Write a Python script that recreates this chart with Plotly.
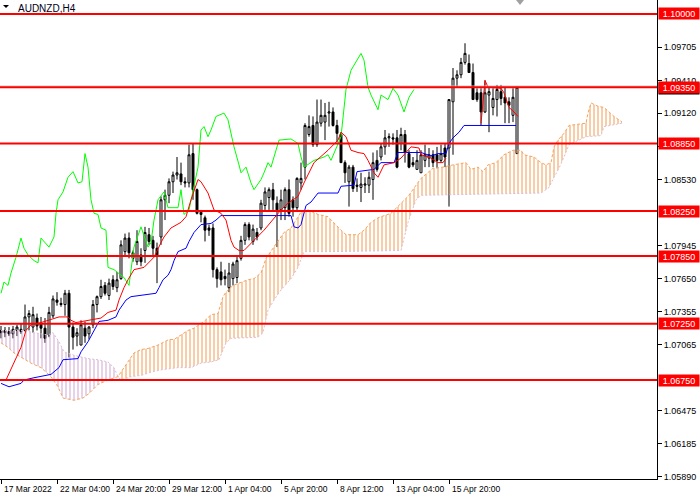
import plotly.graph_objects as go

# ---------------- data ----------------
symbol_title = "AUDNZD,H4"

bar_index = list(range(130))
opens = [1.0719, 1.0717, 1.0718, 1.0716, 1.0719, 1.0720, 1.0719, 1.0731, 1.0722, 1.0730,
         1.0725, 1.0721, 1.0715, 1.0732, 1.0746, 1.0743, 1.0742, 1.0752, 1.0722, 1.0714,
         1.0706, 1.0721, 1.0716, 1.0724, 1.0742, 1.0749, 1.0759, 1.0750, 1.0764, 1.0757,
         1.0765, 1.0789, 1.0801, 1.0783, 1.0780, 1.0786, 1.0790, 1.0804, 1.0799, 1.0792,
         1.0802, 1.0835, 1.0839, 1.0851, 1.0857, 1.0858, 1.0851, 1.0850, 1.0876, 1.0844,
         1.0824, 1.0819, 1.0810, 1.0810, 1.0773, 1.0771, 1.0767, 1.0757, 1.0765, 1.0766,
         1.0783, 1.0799, 1.0813, 1.0798, 1.0806, 1.0810, 1.0830, 1.0837, 1.0844, 1.0832,
         1.0826, 1.0828, 1.0844, 1.0835, 1.0828, 1.0850, 1.0864, 1.0893, 1.0901, 1.0884,
         1.0903, 1.0904, 1.0912, 1.0913, 1.0901, 1.0893, 1.0868, 1.0851, 1.0864, 1.0848,
         1.0846, 1.0848, 1.0848, 1.0853, 1.0870, 1.0873, 1.0882, 1.0890, 1.0890, 1.0890,
         1.0885, 1.0893, 1.0876, 1.0868, 1.0862, 1.0859, 1.0870, 1.0872, 1.0875, 1.0875,
         1.0870, 1.0881, 1.0881, 1.0922, 1.0943, 1.0946, 1.0957, 1.0956, 1.0948, 1.0930,
         1.0930, 1.0913, 1.0928, 1.0917, 1.0924, 1.0931, 1.0926, 1.0922, 1.0910, 1.0876]
highs = [1.0723, 1.0722, 1.0722, 1.0723, 1.0724, 1.0725, 1.0742, 1.0737, 1.0740, 1.0734,
         1.0731, 1.0730, 1.0740, 1.0750, 1.0753, 1.0748, 1.0755, 1.0755, 1.0726, 1.0721,
         1.0728, 1.0727, 1.0723, 1.0746, 1.0750, 1.0764, 1.0762, 1.0765, 1.0768, 1.0771,
         1.0799, 1.0805, 1.0806, 1.0790, 1.0808, 1.0792, 1.0811, 1.0810, 1.0803, 1.0797,
         1.0838, 1.0844, 1.0854, 1.0860, 1.0873, 1.0868, 1.0855, 1.0884, 1.0885, 1.0845,
         1.0826, 1.0821, 1.0813, 1.0814, 1.0775, 1.0780, 1.0773, 1.0779, 1.0780, 1.0786,
         1.0803, 1.0815, 1.0815, 1.0813, 1.0810, 1.0835, 1.0846, 1.0846, 1.0850, 1.0838,
         1.0844, 1.0846, 1.0853, 1.0838, 1.0855, 1.0868, 1.0903, 1.0910, 1.0909, 1.0924,
         1.0924, 1.0921, 1.0922, 1.0917, 1.0906, 1.0895, 1.0870, 1.0866, 1.0866, 1.0854,
         1.0859, 1.0855, 1.0860, 1.0877, 1.0879, 1.0885, 1.0897, 1.0894, 1.0894, 1.0897,
         1.0899, 1.0897, 1.0879, 1.0873, 1.0879, 1.0879, 1.0884, 1.0881, 1.0879, 1.0882,
         1.0884, 1.0885, 1.0924, 1.0952, 1.0950, 1.0961, 1.0974, 1.0964, 1.0956, 1.0934,
         1.0934, 1.0941, 1.0935, 1.0934, 1.0937, 1.0937, 1.0935, 1.0926, 1.0934, 1.0935]
lows = [1.0712, 1.0713, 1.0714, 1.0712, 1.0714, 1.0716, 1.0718, 1.0719, 1.0717, 1.0719,
        1.0712, 1.0708, 1.0713, 1.0730, 1.0741, 1.0740, 1.0732, 1.0695, 1.0702, 1.0705,
        1.0706, 1.0708, 1.0711, 1.0721, 1.0735, 1.0747, 1.0750, 1.0746, 1.0755, 1.0753,
        1.0764, 1.0786, 1.0783, 1.0780, 1.0777, 1.0776, 1.0779, 1.0795, 1.0784, 1.0761,
        1.0795, 1.0817, 1.0832, 1.0841, 1.0853, 1.0848, 1.0846, 1.0846, 1.0835, 1.0822,
        1.0815, 1.0798, 1.0803, 1.0766, 1.0757, 1.0759, 1.0759, 1.0753, 1.0759, 1.0761,
        1.0781, 1.0795, 1.0799, 1.0795, 1.0799, 1.0808, 1.0826, 1.0826, 1.0826, 1.0793,
        1.0817, 1.0817, 1.0820, 1.0820, 1.0826, 1.0844, 1.0853, 1.0891, 1.0882, 1.0882,
        1.0900, 1.0888, 1.0900, 1.0900, 1.0886, 1.0868, 1.0850, 1.0829, 1.0842, 1.0842,
        1.0833, 1.0841, 1.0841, 1.0835, 1.0860, 1.0870, 1.0875, 1.0882, 1.0884, 1.0863,
        1.0879, 1.0868, 1.0863, 1.0864, 1.0862, 1.0859, 1.0864, 1.0864, 1.0864, 1.0863,
        1.0868, 1.0864, 1.0829, 1.0875, 1.0935, 1.0943, 1.0955, 1.0948, 1.0924, 1.0922,
        1.0901, 1.0912, 1.0895, 1.0910, 1.0909, 1.0919, 1.0903, 1.0903, 1.0904, 1.0876]
closes = [1.0717, 1.0719, 1.0716, 1.0720, 1.0722, 1.0718, 1.0731, 1.0734, 1.0733, 1.0723,
          1.0721, 1.0712, 1.0735, 1.0747, 1.0744, 1.0742, 1.0752, 1.0722, 1.0713, 1.0717,
          1.0724, 1.0714, 1.0722, 1.0742, 1.0749, 1.0758, 1.0752, 1.0761, 1.0758, 1.0764,
          1.0795, 1.0801, 1.0788, 1.0788, 1.0798, 1.0780, 1.0806, 1.0798, 1.0792, 1.0786,
          1.0835, 1.0839, 1.0851, 1.0857, 1.0859, 1.0851, 1.0850, 1.0875, 1.0844, 1.0823,
          1.0822, 1.0808, 1.0808, 1.0773, 1.0765, 1.0764, 1.0765, 1.0770, 1.0778, 1.0781,
          1.0799, 1.0813, 1.0802, 1.0809, 1.0802, 1.0832, 1.0842, 1.0844, 1.0835, 1.0826,
          1.0835, 1.0844, 1.0823, 1.0828, 1.0854, 1.0854, 1.0901, 1.0900, 1.0884, 1.0904,
          1.0910, 1.0910, 1.0913, 1.0901, 1.0894, 1.0868, 1.0859, 1.0864, 1.0845, 1.0847,
          1.0849, 1.0849, 1.0855, 1.0868, 1.0862, 1.0882, 1.0890, 1.0891, 1.0889, 1.0864,
          1.0893, 1.0877, 1.0864, 1.0866, 1.0870, 1.0875, 1.0875, 1.0875, 1.0868, 1.0870,
          1.0876, 1.0873, 1.0924, 1.0943, 1.0946, 1.0957, 1.0965, 1.0948, 1.0924, 1.0924,
          1.0913, 1.0930, 1.0931, 1.0925, 1.0933, 1.0925, 1.0921, 1.0919, 1.0926, 1.0935]

# Ichimoku lines (bar position, price)
tenkan_x = [1.25, 3.25, 5, 6.25, 7.5, 10, 13.25, 14.5, 16.75, 17.5, 18.75, 25, 26.75, 28.75, 29.5,
            30.75, 31.75, 33.25, 35.75, 38.25, 40, 40.75, 42.5, 45, 46.25, 47.5, 49.25, 50, 51.75,
            53.25, 55, 56.25, 57.5, 58.25, 59.5, 60.75, 65.75, 70, 71.75, 74.25, 75.75, 78.25, 81.75,
            84.25, 85, 86.25, 87.5, 89.25, 90.75, 91.75, 93.25, 94.25, 95.75, 98.25, 100, 101.75,
            102.5, 104.5, 105, 107, 109.25, 110.5, 111.25, 115, 120, 121, 121.75, 125, 125.75, 127,
            128.25, 129.25]
tenkan_y = [1.0675, 1.0690, 1.0704, 1.0719, 1.0724, 1.0726, 1.0730, 1.0731, 1.0731, 1.0728, 1.0726,
            1.0730, 1.0735, 1.0737, 1.0746, 1.0757, 1.0764, 1.0773, 1.0775, 1.0784, 1.0797, 1.0802,
            1.0810, 1.0815, 1.0820, 1.0835, 1.0853, 1.0851, 1.0841, 1.0826, 1.0823, 1.0817, 1.0799,
            1.0793, 1.0790, 1.0790, 1.0808, 1.0826, 1.0832, 1.0838, 1.0850, 1.0868, 1.0879, 1.0888,
            1.0895, 1.0891, 1.0879, 1.0877, 1.0876, 1.0870, 1.0859, 1.0855, 1.0866, 1.0868, 1.0872,
            1.0879, 1.0882, 1.0881, 1.0875, 1.0873, 1.0868, 1.0868, 1.0872, None, 1.0903, 1.0941,
            1.0935, 1.0934, 1.0930, 1.0917, 1.0913, 1.0909]

kijun_x = [0, 2, 5, 5.75, 8.25, 12.5, 14.5, 15.5, 19.25, 20, 21.75, 23, 24.5, 26.75, 28.75, 29.5,
           31.25, 32.5, 38.75, 39.5, 40.5, 41.75, 42.5, 43.25, 44.25, 46.25, 47, 48.25, 50, 52.5,
           53.75, 55, 72.5, 73.25, 74.25, 75, 76.25, 77.5, 79.25, 84.25, 85, 88.25, 89, 93.25, 95,
           98.25, 99.25, 105, 107.5, 109.25, 111.25, 112, 113, 114.5, 115.75, 128.75]
kijun_y = [1.0672, 1.0669, 1.0672, 1.0675, 1.0677, 1.0680, 1.0686, 1.0693, 1.0694, 1.0700, 1.0709,
           1.0717, 1.0727, 1.0728, 1.0731, 1.0737, 1.0746, 1.0749, 1.0752, 1.0757, 1.0764, 1.0768,
           1.0773, 1.0781, 1.0789, 1.0792, 1.0798, 1.0806, 1.0813, 1.0814, 1.0817, 1.0821, 1.0821,
           1.0811, 1.0810, 1.0813, 1.0830, 1.0833, 1.0841, 1.0841, 1.0847, 1.0848, 1.0860, 1.0862,
           1.0868, 1.0868, 1.0877, 1.0877, 1.0874, 1.0876, 1.0876, 1.0885, 1.0890, 1.0895, 1.0901,
           1.0901]

chikou_x = [0, 0.75, 1.75, 2.5, 3.75, 5, 5.75, 6.75, 8.25, 9.25, 10, 12, 13.25, 13.75, 14.25, 15.5,
            16.75, 18, 19.25, 20.25, 21, 21.75, 22.5, 23.25, 24.25, 25, 26.25, 26.75, 28.25, 30.75,
            32, 33.25, 35, 36.75, 37.5, 38.25, 39.25, 40.75, 41.75, 44.25, 45, 45.75, 47, 49.25, 50,
            50.75, 51.75, 52.5, 53.75, 55.75, 56.75, 58.25, 59.5, 60, 61.25, 62.5, 63.25, 65, 65.75,
            66.75, 67.5, 68.25, 69.5, 72.5, 74.25, 75, 75.75, 78.25, 80.75, 81.75, 82.5, 85, 86.25,
            87.5, 90, 90.75, 91.75, 92.5, 94.25, 95, 96.75, 98, 99.25, 100.75, 102, 103.25]
chikou_y = [1.0752, 1.0762, 1.0759, 1.0770, 1.0784, 1.0801, 1.0792, 1.0786, 1.0781, 1.0779, 1.0801,
            1.0793, 1.0802, 1.0823, 1.0835, 1.0842, 1.0855, 1.0860, 1.0850, 1.0851, 1.0876, 1.0864,
            1.0835, 1.0823, 1.0822, 1.0810, 1.0808, 1.0775, 1.0773, 1.0766, 1.0759, 1.0793, 1.0811,
            1.0793, 1.0797, 1.0817, 1.0835, 1.0842, 1.0828, 1.0828, 1.0844, 1.0822, 1.0826, 1.0864,
            1.0897, 1.0900, 1.0891, 1.0897, 1.0909, 1.0912, 1.0906, 1.0882, 1.0866, 1.0859, 1.0864,
            1.0850, 1.0844, 1.0853, 1.0859, 1.0868, 1.0864, 1.0873, 1.0888, 1.0889, 1.0885, 1.0873,
            1.0864, 1.0870, 1.0873, 1.0875, 1.0870, 1.0891, 1.0933, 1.0950, 1.0965, 1.0959, 1.0935,
            1.0928, 1.0915, 1.0928, 1.0924, 1.0934, 1.0928, 1.0913, 1.0926, 1.0933]

senkou_a_x = [0, 1.75, 3.25, 5.75, 7.5, 10, 12.5, 14.25, 15.5, 18.25, 20.5, 22, 24.25, 26.75, 28.25,
              29.25, 30.75, 32.5, 33.25, 35, 36.75, 39.25, 40.75, 42, 43.25, 45, 46.75, 48.25, 49.5,
              50.75, 52.5, 54.25, 55.5, 56.25, 58, 59.5, 61.75, 63.25, 65, 66.25, 68, 69.25, 70.75,
              72.5, 73.75, 75, 76.75, 79.25, 81.75, 83.25, 85, 86.25, 89.25, 90.75, 92.5, 94.25, 97.5,
              101.75, 105, 108, 110.5, 113, 116.25, 117.5, 119.25, 120.5, 121.75, 123.75, 125.75, 128,
              130, 130.75, 133.25, 135, 136.25, 137.5, 138.25, 139.25, 140.75, 142, 146.25, 146.75,
              147.5, 149.25, 150.75, 152, 153.25, 155.25]
senkou_a_y = [1.0708, 1.0704, 1.0699, 1.0694, 1.0690, 1.0686, 1.0678, 1.0669, 1.0659, 1.0657, 1.0659,
              1.0663, 1.0671, 1.0675, 1.0677, 1.0678, 1.0686, 1.0695, 1.0699, 1.0702, 1.0703, 1.0706,
              1.0709, 1.0711, 1.0711, 1.0715, 1.0719, 1.0721, 1.0724, 1.0727, 1.0733, 1.0734, 1.0749,
              1.0753, 1.0759, 1.0761, 1.0764, 1.0765, 1.0770, 1.0783, 1.0792, 1.0798, 1.0806, 1.0810,
              1.0817, 1.0824, 1.0826, 1.0822, 1.0820, 1.0814, 1.0808, 1.0804, 1.0804, 1.0808, 1.0815,
              1.0819, 1.0823, 1.0838, 1.0854, 1.0863, 1.0864, 1.0866, 1.0868, 1.0862, 1.0864, 1.0860,
              1.0866, 1.0868, 1.0875, 1.0879, 1.0879, 1.0875, 1.0873, 1.0868, 1.0866, 1.0868, 1.0882,
              1.0888, 1.0894, 1.0901, 1.0903, 1.0912, 1.0921, 1.0918, 1.0917, 1.0913, 1.0909, 1.0904]

senkou_b_x = [0, 5.75, 8.25, 11.75, 13, 14.5, 15.75, 18.25, 21.75, 24.25, 26.75, 28.25, 29.25, 30,
              32.5, 35, 37.5, 40, 44.25, 47.5, 50, 52.5, 54.5, 56.25, 57.5, 64.25, 65.5, 66.75, 68.25,
              70, 72.5, 74.25, 75.75, 82.5, 100, 101.75, 103.75, 105, 135, 137, 138.25, 139.5, 140.75,
              142, 146.25, 150, 150.75, 155.25]
senkou_b_y = [1.0719, 1.0719, 1.0717, 1.0715, 1.0717, 1.0709, 1.0700, 1.0697, 1.0694, 1.0693, 1.0691,
              1.0686, 1.0678, 1.0675, 1.0678, 1.0679, 1.0682, 1.0684, 1.0686, 1.0686, 1.0690, 1.0691,
              1.0693, 1.0708, 1.0712, 1.0713, 1.0717, 1.0737, 1.0746, 1.0755, 1.0765, 1.0775, 1.0789,
              1.0789, 1.0790, 1.0815, 1.0835, 1.0839, 1.0841, 1.0846, 1.0855, 1.0863, 1.0873, 1.0884,
              1.0891, 1.0892, 1.0900, 1.0903]
cloud_cross = 29.25  # bar where the two spans meet

level_prices = [1.10000, 1.09350, 1.08850, 1.08250, 1.07850, 1.07250, 1.06750]
bid_price = 1.09360

price_ticks = [1.09705, 1.09410, 1.09120, 1.08825, 1.08530, 1.07945, 1.07650,
               1.07355, 1.07065, 1.06475, 1.06185, 1.05890]
time_tick_bars = [0, 14, 28, 42, 56, 70, 84, 98, 112]
time_tick_labels = ["17 Mar 2022", "22 Mar 04:00", "24 Mar 20:00", "29 Mar 12:00",
                    "1 Apr 04:00", "5 Apr 20:00", "8 Apr 12:00", "13 Apr 04:00", "15 Apr 20:00"]

# ---------------- styling ----------------
FONT = "Liberation Sans"
ORANGE = "#F4A460"
THISTLE = "#D8BFD8"
PLOT_W = 657
PLOT_H = 479


def part(xs, ys, lo, hi):
    px = [x for x in xs if lo <= x <= hi]
    py = [y for x, y in zip(xs, ys) if lo <= x <= hi]
    return px, py


fig = go.Figure()

# cloud (left part: span B above span A, right part: span A above span B)
al_x, al_y = part(senkou_a_x, senkou_a_y, -1, cloud_cross)
bl_x, bl_y = part(senkou_b_x, senkou_b_y, -1, cloud_cross)
ar_x, ar_y = part(senkou_a_x, senkou_a_y, cloud_cross, 1e9)
br_x, br_y = part(senkou_b_x, senkou_b_y, cloud_cross, 1e9)

fig.add_trace(go.Scatter(x=al_x, y=al_y, mode="lines", line=dict(width=0), hoverinfo="skip"))
fig.add_trace(go.Scatter(x=bl_x, y=bl_y, mode="lines", line=dict(width=0), fill="tonexty",
                         fillcolor="rgba(0,0,0,0)",
                         fillpattern=dict(shape="|", fgcolor="#CFA6CF", fgopacity=1,
                                          bgcolor="rgba(0,0,0,0)", size=4, solidity=0.25),
                         hoverinfo="skip"))
fig.add_trace(go.Scatter(x=br_x, y=br_y, mode="lines", line=dict(width=0), hoverinfo="skip"))
fig.add_trace(go.Scatter(x=ar_x, y=ar_y, mode="lines", line=dict(width=0), fill="tonexty",
                         fillcolor="rgba(0,0,0,0)",
                         fillpattern=dict(shape="|", fgcolor="#F39A50", fgopacity=1,
                                          bgcolor="rgba(0,0,0,0)", size=4, solidity=0.25),
                         hoverinfo="skip"))

fig.add_trace(go.Scatter(x=senkou_a_x, y=senkou_a_y, mode="lines",
                         line=dict(color=ORANGE, width=1, dash="3px,2px"), hoverinfo="skip"))
fig.add_trace(go.Scatter(x=senkou_b_x, y=senkou_b_y, mode="lines",
                         line=dict(color=THISTLE, width=1, dash="2px,2px"), hoverinfo="skip"))

fig.add_trace(go.Candlestick(
    x=bar_index, open=opens, high=highs, low=lows, close=closes,
    increasing=dict(line=dict(color="black", width=1), fillcolor="white"),
    decreasing=dict(line=dict(color="black", width=1), fillcolor="black"),
    whiskerwidth=0, hoverinfo="skip"))

fig.add_trace(go.Scatter(x=chikou_x, y=chikou_y, mode="lines",
                         line=dict(color="#00FF00", width=1), hoverinfo="skip"))
fig.add_trace(go.Scatter(x=kijun_x, y=kijun_y, mode="lines",
                         line=dict(color="#0000FF", width=1), hoverinfo="skip"))
fig.add_trace(go.Scatter(x=tenkan_x, y=tenkan_y, mode="lines", connectgaps=False,
                         line=dict(color="#FF0000", width=1), hoverinfo="skip"))

shapes = []
shapes.append(dict(type="line", xref="paper", x0=0, x1=1, yref="y", y0=bid_price, y1=bid_price,
                   line=dict(color="#C0C0C0", width=1), layer="above"))
for lv in level_prices:
    shapes.append(dict(type="line", xref="paper", x0=0, x1=1, yref="y", y0=lv, y1=lv,
                       line=dict(color="#FF0000", width=2), layer="above"))
# chart-window markers (title triangle, chart-shift marker)
shapes.append(dict(type="path", xref="paper", yref="paper",
                   path="M 0.0046 0.9896 L 0.0137 0.9896 L 0.0091 0.9833 Z",
                   fillcolor="black", line=dict(width=0), layer="above"))
shapes.append(dict(type="path", xref="paper", yref="paper",
                   path="M 0.7854 1 L 0.7976 1 L 0.7915 0.9896 Z",
                   fillcolor="#A0A0A0", line=dict(width=0), layer="above"))

annotations = []
annotations.append(dict(text=symbol_title, xref="paper", yref="paper", x=16 / PLOT_W, y=1,
                        xanchor="left", yanchor="top", yshift=-1, showarrow=False,
                        font=dict(family=FONT, size=10, color="#000020")))
for xb, lab in zip(time_tick_bars, time_tick_labels):
    annotations.append(dict(text=lab, xref="x", x=xb, xanchor="left", xshift=1,
                            yref="paper", y=0, yanchor="top", yshift=-3, showarrow=False,
                            font=dict(family=FONT, size=8.5, color="black")))
annotations.append(dict(text=f"{bid_price:.5f}", xref="paper", x=1, xanchor="left", xshift=1,
                        yref="y", y=bid_price, yshift=-2, showarrow=False, bgcolor="black",
                        width=40, height=11, borderpad=0,
                        font=dict(family=FONT, size=9, color="white")))
for lv in level_prices:
    annotations.append(dict(text=f"{lv:.5f}", xref="paper", x=1, xanchor="left", xshift=1,
                            yref="y", y=lv, showarrow=False, bgcolor="#FF0000",
                            width=40, height=11, borderpad=0,
                            font=dict(family=FONT, size=9, color="white")))

fig.update_layout(
    width=700, height=500,
    margin=dict(l=0, r=700 - PLOT_W, t=0, b=500 - PLOT_H, pad=0, autoexpand=False),
    paper_bgcolor="white", plot_bgcolor="white",
    showlegend=False, hovermode=False,
    boxgap=0.3,
    shapes=shapes, annotations=annotations,
    xaxis=dict(range=[-0.25, 164], showgrid=False, zeroline=False, automargin=False,
               showline=True, linecolor="black", linewidth=1,
               tickmode="array", tickvals=time_tick_bars, showticklabels=False,
               ticks="outside", ticklen=4, tickcolor="black",
               rangeslider=dict(visible=False), fixedrange=True),
    yaxis=dict(range=[1.05871, 1.10124], side="right", showgrid=False, zeroline=False,
               automargin=False,
               showline=True, linecolor="black", linewidth=1,
               tickmode="array", tickvals=price_ticks, tickformat=".5f",
               ticks="outside", ticklen=4, tickcolor="black",
               tickfont=dict(family=FONT, size=9, color="black"), fixedrange=True),
)

fig.write_html("out.html", config={"displayModeBar": False})

# the page body has a default 8px margin; remove it so the figure sits at the window's corner
with open("out.html", encoding="utf-8") as fh:
    page = fh.read()
page = page.replace("<head>", "<head><style>html,body{margin:0;padding:0;overflow:hidden;}</style>", 1)
with open("out.html", "w", encoding="utf-8") as fh:
    fh.write(page)
